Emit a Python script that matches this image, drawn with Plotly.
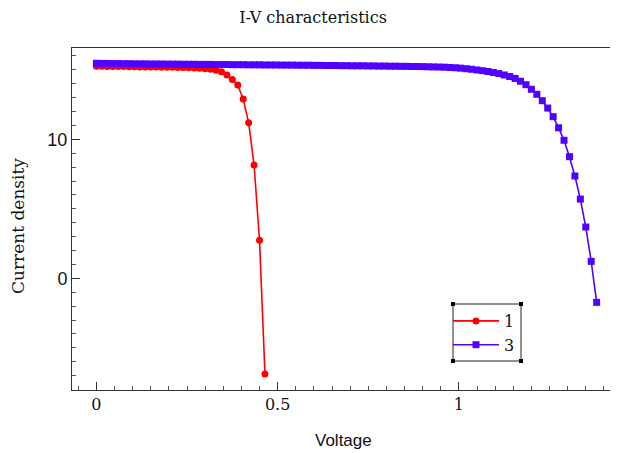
import plotly.graph_objects as go

# ---- data ----
v_red = [0.0, 0.015, 0.03, 0.045, 0.06, 0.075, 0.09, 0.105, 0.12, 0.135,
         0.15, 0.165, 0.18, 0.195, 0.21, 0.225, 0.24, 0.255, 0.27, 0.285,
         0.3, 0.315, 0.33, 0.345, 0.36, 0.375, 0.39, 0.405, 0.42, 0.435,
         0.45, 0.465]
j_red = [15.25, 15.25, 15.24, 15.24, 15.23, 15.23, 15.22, 15.22, 15.21, 15.21,
         15.20, 15.20, 15.19, 15.18, 15.18, 15.17, 15.16, 15.15, 15.13, 15.11,
         15.08, 15.04, 14.97, 14.86, 14.62, 14.30, 13.90, 12.90, 11.19, 8.15,
         2.73, -6.88]

v_blue = [0.0, 0.015, 0.03, 0.045, 0.06, 0.075, 0.09, 0.105, 0.12, 0.135,
          0.15, 0.165, 0.18, 0.195, 0.21, 0.225, 0.24, 0.255, 0.27, 0.285,
          0.3, 0.315, 0.33, 0.345, 0.36, 0.375, 0.39, 0.405, 0.42, 0.435,
          0.45, 0.465, 0.48, 0.495, 0.51, 0.525, 0.54, 0.555, 0.57, 0.585,
          0.6, 0.615, 0.63, 0.645, 0.66, 0.675, 0.69, 0.705, 0.72, 0.735,
          0.75, 0.765, 0.78, 0.795, 0.81, 0.825, 0.84, 0.855, 0.87, 0.885,
          0.9, 0.915, 0.93, 0.945, 0.96, 0.975, 0.99, 1.005, 1.02, 1.035,
          1.05, 1.065, 1.08, 1.095, 1.11, 1.125, 1.14, 1.155, 1.17, 1.185,
          1.2, 1.215, 1.23, 1.245, 1.26, 1.275, 1.29, 1.305, 1.32, 1.335,
          1.35, 1.365, 1.38]
j_blue = [15.47, 15.46, 15.46, 15.45, 15.45,
          15.44, 15.44, 15.43, 15.43, 15.43, 15.42, 15.42, 15.42, 15.41, 15.41,
          15.41, 15.40, 15.40, 15.40, 15.39, 15.39, 15.39, 15.38, 15.38, 15.38,
          15.37, 15.37, 15.37, 15.36, 15.36,
          15.36, 15.35, 15.35, 15.35, 15.34, 15.34, 15.34, 15.33, 15.33, 15.33,
          15.32, 15.32, 15.31, 15.31, 15.31,
          15.30, 15.30, 15.29, 15.29, 15.29, 15.28, 15.28, 15.27, 15.27, 15.26,
          15.26, 15.25, 15.25, 15.24, 15.24,
          15.23, 15.22, 15.21, 15.20, 15.19, 15.17, 15.15, 15.12, 15.08, 15.04,
          14.99, 14.94, 14.88, 14.81, 14.73, 14.63, 14.52, 14.38, 14.18, 13.93,
          13.60, 13.24, 12.78, 12.25, 11.63, 10.83, 9.93, 8.75, 7.36, 5.70,
          3.69, 1.22, -1.73]

series_names = ["1", "3"]
x_tick_vals = [0, 0.5, 1]
x_tick_text = ["0", "0.5", "1"]
y_tick_vals = [0, 10]
y_tick_text = ["0", "10"]

SERIF = "DejaVu Serif"
SANS = "Liberation Sans"
RED = "#ff0000"
BLUE = "#5200ff"

fig = go.Figure()
fig.add_trace(go.Scatter(x=v_red, y=j_red, name=series_names[0], mode="lines+markers",
                         line=dict(color=RED, width=1.6),
                         marker=dict(symbol="circle", size=7, color=RED)))
fig.add_trace(go.Scatter(x=v_blue, y=j_blue, name=series_names[1], mode="lines+markers",
                         line=dict(color=BLUE, width=1.6),
                         marker=dict(symbol="square", size=7, color=BLUE)))

# page body has an 8px margin: figure coordinates = screen - 8
W, H = 610, 445
L, R, T, B = 64, 0, 40, 63
pw, ph = W - L - R, H - T - B

def px(xp):
    return (xp - L) / pw

def py(yp):
    return (H - B - yp) / ph

# legend frame (figure coords)
LX0, LY0, LX1, LY1 = 445, 296, 513, 353
shapes = [dict(type="rect", xref="paper", yref="paper",
               x0=px(LX0), x1=px(LX1), y0=py(LY1), y1=py(LY0),
               line=dict(color="#222", width=1), fillcolor="rgba(0,0,0,0)")]
for cx, cy in [(LX0, LY0), (LX1, LY0), (LX0, LY1), (LX1, LY1)]:
    shapes.append(dict(type="rect", xref="paper", yref="paper",
                       x0=px(cx - 2), x1=px(cx + 2), y0=py(cy + 2), y1=py(cy - 2),
                       fillcolor="black", line=dict(width=0)))

fig.update_layout(
    width=W, height=H,
    margin=dict(l=L, r=R, t=T, b=B),
    paper_bgcolor="white", plot_bgcolor="white",
    title=dict(text="I-V characteristics", x=0.5, xanchor="center",
               y=1 - 9 / H, yref="container", yanchor="middle",
               font=dict(family=SERIF, size=16, color="#111")),
    showlegend=True,
    legend=dict(x=px(LX0 - 5), y=py(LY0), xanchor="left", yanchor="top",
                borderwidth=0, bgcolor="rgba(0,0,0,0)", itemwidth=46,
                font=dict(family=SERIF, size=16, color="#111")),
    xaxis=dict(range=[-0.0673, 1.4389], showgrid=False, zeroline=False,
               showline=True, linecolor="#333", linewidth=1, mirror=True,
               ticks="inside", ticklen=8, tickcolor="#333",
               tickvals=x_tick_vals, ticktext=x_tick_text,
               tickfont=dict(family=SERIF, size=16, color="#111"),
               minor=dict(dtick=0.05, tick0=0, ticks="inside", ticklen=4, tickcolor="#555")),
    yaxis=dict(range=[-8.036, 16.57], showgrid=False, zeroline=False,
               showline=True, linecolor="#333", linewidth=1,
               ticks="inside", ticklen=8, tickcolor="#333",
               tickvals=y_tick_vals, ticktext=y_tick_text,
               tickfont=dict(family=SANS, size=18, color="#111"),
               minor=dict(dtick=1, tick0=0, ticks="inside", ticklen=4, tickcolor="#555")),
    shapes=shapes,
    annotations=[
        dict(text="Voltage", xref="paper", yref="paper", x=px(335), y=py(432),
             xanchor="center", yanchor="middle", showarrow=False,
             font=dict(family=SANS, size=17, color="#111")),
        dict(text="Current density", xref="paper", yref="paper", x=px(10), y=py(218),
             xanchor="center", yanchor="middle", showarrow=False, textangle=-90,
             font=dict(family=SERIF, size=17, color="#111")),
    ],
)

fig.write_html("out.html")
